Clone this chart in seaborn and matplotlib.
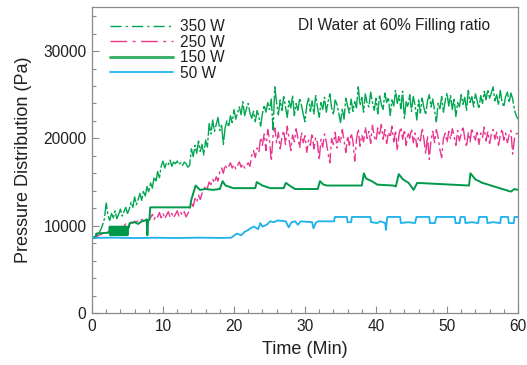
import numpy as np
import pandas as pd
import matplotlib
matplotlib.use("Agg")
import matplotlib.pyplot as plt
import seaborn as sns
from matplotlib.lines import Line2D
from matplotlib.ticker import MultipleLocator

# ---------------- data (pressure in hPa = 100 Pa) ----------------
step_min = 0.25  # sampling interval of the 350 W / 250 W records (min)

p350_hPa = [
    87, 87, 88, 90, 92, 96, 101, 108, 126, 112, 106, 114, 109, 117, 108, 113, 119, 111, 116, 121,
    114, 119, 127, 121, 133, 124, 130, 137, 129, 140, 134, 145, 138, 149, 143, 156, 150, 162, 155, 168,
    174, 166, 172, 170, 175, 168, 173, 171, 174, 170, 172, 169, 173, 171, 167, 169, 188, 179, 192, 183,
    197, 185, 193, 181, 198, 190, 217, 205, 221, 208, 216, 224, 209, 215, 193, 212, 220, 213, 226, 218,
    233, 222, 229, 236, 227, 242, 226, 234, 240, 229, 223, 231, 219, 232, 225, 214, 228, 238, 230, 241,
    233, 245, 210, 259, 241, 227, 244, 232, 248, 236, 224, 243, 235, 249, 226, 240, 232, 246, 238, 228,
    219, 238, 246, 231, 243, 228, 249, 236, 224, 241, 233, 247, 230, 242, 251, 235, 227, 244, 239, 229,
    218, 234, 222, 246, 237, 229, 245, 231, 242, 235, 259, 238, 247, 230, 251, 240, 236, 253, 241, 232,
    246, 228, 250, 239, 233, 252, 241, 247, 226, 244, 237, 255, 240, 249, 234, 254, 223, 242, 236, 250,
    231, 248, 238, 221, 244, 229, 246, 235, 227, 243, 250, 236, 245, 232, 219, 240, 234, 248, 230, 243,
    252, 237, 249, 233, 246, 225, 241, 236, 250, 239, 247, 232, 255, 241, 248, 236, 251, 243, 234, 249,
    240, 254, 244, 256, 246, 252, 259, 243, 250, 238, 255, 242, 236, 248, 253, 241, 252, 245, 233, 226,
    222,
]

p250_hPa = [
    86, 86, 87, 88, 89, 90, 91, 92, 91, 93, 92, 94, 95, 96, 97, 99, 98, 101, 100, 102,
    103, 101, 104, 103, 105, 104, 106, 105, 107, 106, 108, 107, 106, 109, 113, 107, 112, 110, 115, 109,
    114, 108, 112, 116, 110, 114, 109, 113, 117, 111, 115, 112, 116, 110, 114, 118, 126, 122, 131, 127,
    135, 130, 137, 141, 146, 143, 150, 147, 153, 149, 156, 151, 162, 166, 160, 170, 165, 168, 172, 166,
    170, 165, 169, 173, 167, 171, 166, 169, 172, 168, 181, 186, 178, 189, 184, 201, 192, 205, 186, 210,
    198, 174, 203, 212, 195, 207, 188, 201, 209, 193, 214, 199, 186, 204, 196, 211, 200, 189, 207, 195,
    203, 184, 198, 192, 206, 188, 201, 195, 175, 199, 190, 205, 196, 183, 172, 200, 193, 207, 189, 202,
    195, 210, 198, 184, 203, 192, 206, 197, 174, 199, 211, 191, 204, 196, 213, 200, 208, 194, 215, 202,
    197, 212, 203, 216, 199, 210, 194, 207, 201, 214, 196, 209, 186, 205, 213, 199, 210, 192, 207, 200,
    211, 195, 206, 190, 202, 197, 212, 199, 182, 203, 176, 198, 208, 195, 210, 201, 187, 178, 200, 206,
    195, 208, 199, 211, 203, 192, 209, 197, 205, 214, 200, 190, 207, 196, 212, 203, 198, 209, 193, 206,
    201, 213, 197, 208, 194, 205, 210, 199, 207, 192, 203, 211, 198, 206, 195, 204, 209, 182, 200, 205,
    206,
]

t150_min = [0, 0.5, 0.6, 2.4, 2.5, 2.6, 2.7, 2.8, 2.9, 3.0, 3.1, 3.2, 3.3, 3.4, 3.5, 3.6, 3.7, 3.8,
            3.9, 4.0, 4.1, 4.2, 4.3, 4.4, 4.5, 4.6, 4.7, 4.8, 4.9, 5.0, 5.1, 5.2, 5.3, 6.0, 6.5,
            7.0, 7.5, 7.7, 7.8, 7.9, 8.1, 8.2, 13.8, 14.0, 14.3, 14.6, 15.2, 16.0, 17.0, 18.0,
            18.4, 18.8, 19.9, 23.0, 23.2, 24.0, 25.1, 27.0, 27.3, 28.0, 28.6, 31.8, 32.1, 32.6,
            33.1, 38.0, 38.3, 38.6, 39.4, 40.2, 42.4, 42.8, 43.2, 43.8, 44.6, 45.3, 45.8, 53.1,
            53.3, 54.0, 55.0, 57.4, 59.0, 59.5, 60.0]
p150_hPa = [86, 86, 91, 92, 99, 89, 99, 89, 99, 89, 99, 89, 99, 89, 99, 89, 99, 89,
            99, 89, 99, 89, 99, 89, 99, 89, 99, 89, 99, 89, 99, 98, 103, 104, 102,
            105, 106, 107, 89, 106, 107, 121, 121, 130, 138, 146, 141, 142, 141, 142,
            151, 146, 143, 143, 150, 146, 143, 143, 149, 145, 142, 142, 151, 147,
            146, 146, 160, 154, 151, 147, 146, 145, 159, 153, 149, 141, 149, 146,
            160, 153, 149, 143, 139, 142, 141]

t50_min = [0, 3, 6, 9, 12, 15, 18, 19.6, 20.4, 21.0, 21.5, 22.0, 22.3, 22.8, 23.4, 23.7, 24.0,
           24.6, 25.1, 25.6, 26.2, 27.3, 27.7, 28.1, 28.6, 29.0, 29.4, 31.0, 31.2, 31.5, 31.8,
           34.1, 34.2, 35.9, 36.0, 36.5, 36.6, 39.2, 39.3, 40.2, 40.6, 41.3, 41.4, 41.5, 41.6,
           43.4, 43.5, 44.5, 45.5, 45.7, 47.5, 47.6, 48.3, 48.5, 51.1, 51.2, 51.8, 51.9, 52.5,
           52.6, 53.5, 54.4, 54.5, 55.6, 55.7, 56.5, 57.5, 57.6, 58.6, 58.7, 59.4, 59.5, 60.0]
p50_hPa = [86, 86.3, 85.8, 86.2, 85.9, 86.3, 86.0, 86.2, 91, 89, 93, 95, 97, 99, 96, 103, 99,
           101, 105, 104, 106, 105, 98, 104, 105, 101, 105, 104, 97, 103, 105,
           105, 110, 110, 104, 104, 110, 110, 104, 103, 105, 103, 95, 104, 110,
           110, 103, 104, 103, 110, 110, 103, 103, 110, 110, 103, 103, 110, 110,
           103, 104, 103, 110, 110, 103, 104, 103, 110, 110, 103, 103, 110, 110]

series_labels = ["350 W", "250 W", "150 W", "50 W"]
x_ticks = [0, 10, 20, 30, 40, 50, 60]
y_ticks = [0, 10000, 20000, 30000]
title_text = "DI Water at 60% Filling ratio"

# ---------------- build tidy table ----------------
frames = []
for lab, vals in (("350 W", p350_hPa), ("250 W", p250_hPa)):
    frames.append(pd.DataFrame({"time": [i * step_min for i in range(len(vals))],
                                "pressure": [v * 100 for v in vals], "series": lab}))
frames.append(pd.DataFrame({"time": t150_min, "pressure": [v * 100 for v in p150_hPa], "series": "150 W"}))
frames.append(pd.DataFrame({"time": t50_min, "pressure": [v * 100 for v in p50_hPa], "series": "50 W"}))
df = pd.concat(frames, ignore_index=True)

colors = {"350 W": "#00a651", "250 W": "#e8368f", "150 W": "#00994a", "50 W": "#1cb2ec"}
widths = {"350 W": 1.0, "250 W": 1.0, "150 W": 1.4, "50 W": 1.3}
data_dashes = {"350 W": (14, 1.5, 2, 1.5), "250 W": (9, 2.5, 2, 2.5), "150 W": None, "50 W": None}

# ---------------- style ----------------
sns.set_style("ticks")
plt.rcParams["font.family"] = ["Liberation Sans", "DejaVu Sans"]
text_color = "#231f20"
spine_color = "#8a8a8a"

fig = plt.figure(figsize=(5.27, 3.65), dpi=100)
ax = fig.add_axes([92 / 527, 1 - 313 / 365, 426 / 527, (313 - 7.4) / 365])

for lab in series_labels:
    sub = df[df["series"] == lab]
    sns.lineplot(data=sub, x="time", y="pressure", ax=ax, color=colors[lab],
                 linewidth=widths[lab], legend=False, sort=False, estimator=None)
    ln = ax.lines[-1]
    if data_dashes[lab] is not None:
        ln.set_dashes(data_dashes[lab])

ax.set_xlim(0, 60)
ax.set_ylim(0, 35000)
ax.set_xticks(x_ticks)
ax.set_yticks(y_ticks)
ax.xaxis.set_minor_locator(MultipleLocator(2))
ax.yaxis.set_minor_locator(MultipleLocator(2000))
ax.tick_params(which="both", direction="in", color=spine_color, labelcolor=text_color,
               labelsize=11.2, top=False, right=False)
ax.tick_params(which="major", length=5, width=0.8, pad=4)
ax.tick_params(which="minor", length=3, width=0.8)
for s in ax.spines.values():
    s.set_visible(True)
    s.set_color(spine_color)
    s.set_linewidth(0.9)

ax.set_xlabel("Time (Min)", fontsize=13, color=text_color, labelpad=5)
ax.set_ylabel("Pressure Distribution (Pa)", fontsize=13, color=text_color, labelpad=8)

handles = [
    Line2D([], [], color=colors["350 W"], lw=1.0, dashes=(8, 3, 1.5, 3)),
    Line2D([], [], color=colors["250 W"], lw=1.0, dashes=(12, 4, 2, 4)),
    Line2D([], [], color="#3fb36c", lw=2.2),
    Line2D([], [], color=colors["50 W"], lw=1.3),
]
leg = ax.legend(handles, series_labels, loc="upper left", bbox_to_anchor=(0.036, 0.972),
                frameon=False, fontsize=11.2, handlelength=4.0, handletextpad=0.45,
                labelspacing=0.04, borderaxespad=0.0, borderpad=0.2)
for t in leg.get_texts():
    t.set_color(text_color)

ax.text(0.935, 0.94, title_text, transform=ax.transAxes, ha="right", va="center",
        fontsize=11.2, color=text_color)

fig.savefig("out.png", dpi=100)
